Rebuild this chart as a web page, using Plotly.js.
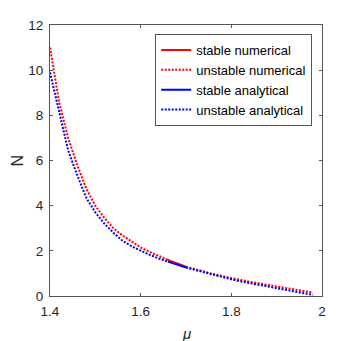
<!DOCTYPE html>
<html>
<head>
<meta charset="utf-8">
<script src="https://cdn.plot.ly/plotly-3.0.1.min.js"></script>
<style>
  body { margin: 0; background: #fff; }
  #chart { width: 360px; height: 341px; }
</style>
</head>
<body>
<div id="chart"></div>
<script>
// mu values for each branch
const muUnstableA = [1.40, 1.42, 1.44, 1.46, 1.48, 1.50, 1.52, 1.54, 1.56, 1.58, 1.60, 1.62, 1.64, 1.66];
const muStable = [1.66, 1.67, 1.68, 1.69, 1.70];
const muUnstableB = [1.70, 1.72, 1.74, 1.76, 1.78, 1.80, 1.82, 1.84, 1.86, 1.88, 1.90, 1.92, 1.94, 1.96, 1.98];

// numerical (red)
const numUnstableA = [11.0, 8.6, 7.0, 5.8, 4.75, 4.0, 3.45, 3.0, 2.68, 2.4, 2.15, 1.95, 1.76, 1.6];
const numStable = [1.6, 1.52, 1.44, 1.37, 1.3];
const numUnstableB = [1.3, 1.18, 1.07, 0.97, 0.88, 0.79, 0.71, 0.63, 0.56, 0.49, 0.42, 0.35, 0.29, 0.22, 0.15];

// analytical (blue)
const anaUnstableA = [9.9, 8.15, 6.45, 5.35, 4.35, 3.7, 3.2, 2.8, 2.45, 2.2, 2.0, 1.82, 1.66, 1.52];
const anaStable = [1.52, 1.45, 1.39, 1.32, 1.26];
const anaUnstableB = [1.26, 1.15, 1.04, 0.93, 0.83, 0.74, 0.65, 0.57, 0.49, 0.42, 0.35, 0.27, 0.2, 0.12, 0.05];

const red = "#ff0000";
const blue = "#0000ff";
const dotted = "2px,1.5px";

function line(x, y, color, dash, name, show, group) {
    return {
        x: x, y: y,
        type: "scatter",
        mode: "lines",
        name: name,
        showlegend: show,
        legendgroup: group,
        line: {color: color, width: 2, dash: dash}
    };
}

const traces = [
    line(muStable, numStable, red, "solid", "stable numerical", true, "sn"),
    line(muUnstableA, numUnstableA, red, dotted, "unstable numerical", true, "un"),
    line(muStable, anaStable, blue, "solid", "stable analytical", true, "sa"),
    line(muUnstableA, anaUnstableA, blue, dotted, "unstable analytical", true, "ua"),
    line(muUnstableB, numUnstableB, red, dotted, "unstable numerical", false, "un"),
    line(muUnstableB, anaUnstableB, blue, dotted, "unstable analytical", false, "ua")
];

const axisCommon = {
    showgrid: false,
    zeroline: false,
    showline: true,
    mirror: "ticks",
    linecolor: "#555555",
    linewidth: 1,
    ticks: "inside",
    ticklen: 3,
    tickcolor: "#555555",
    tickfont: {family: "Liberation Sans, Arial, sans-serif", size: 13.5, color: "#262626"}
};

const layout = {
    width: 360,
    height: 341,
    margin: {l: 50, r: 38, t: 25, b: 45},
    paper_bgcolor: "#ffffff",
    plot_bgcolor: "#ffffff",
    font: {family: "Liberation Sans, Arial, sans-serif", color: "#262626"},
    xaxis: Object.assign({}, axisCommon, {
        range: [1.4, 2],
        tickvals: [1.4, 1.6, 1.8, 2],
        ticktext: ["1.4", "1.6", "1.8", "2"],
        ticklabelstandoff: 3
    }),
    yaxis: Object.assign({}, axisCommon, {
        range: [0, 12],
        tickvals: [0, 2, 4, 6, 8, 10, 12],
        ticklabelstandoff: 3
    }),
    // axis titles placed as annotations so they sit where the original has them
    annotations: [
        {text: "<i>μ</i>", xref: "paper", yref: "paper", x: 0.5, y: -0.138,
         xanchor: "center", yanchor: "middle",
         showarrow: false, font: {size: 15, color: "#262626"}},
        {text: "N", xref: "paper", yref: "paper", x: -0.121, y: 0.5, textangle: -90,
         xanchor: "center", yanchor: "middle",
         showarrow: false, font: {size: 16, color: "#262626"}}
    ],
    legend: {
        x: 0.964, xanchor: "right",
        y: 0.967, yanchor: "top",
        bgcolor: "#ffffff",
        bordercolor: "#555555",
        borderwidth: 1,
        font: {size: 13, color: "#000000"},
        tracegroupgap: 0
    },
    showlegend: true
};

Plotly.newPlot("chart", traces, layout, {displayModeBar: false, staticPlot: true});
</script>
</body>
</html>
